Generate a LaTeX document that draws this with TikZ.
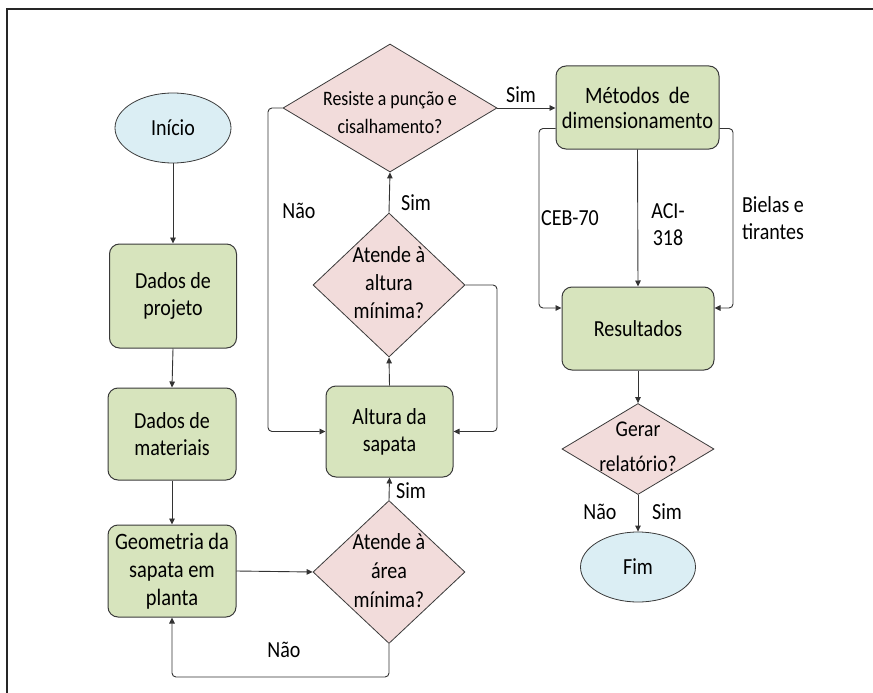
\documentclass[tikz,border=0pt]{standalone}
\usepackage{fontspec}
\setmainfont{Carlito}[FakeStretch=0.87]
\usetikzlibrary{shapes.geometric,arrows.meta,calc}
\definecolor{boxgreen}{HTML}{D7E4BD}
\definecolor{diapink}{HTML}{F2DCDB}
\definecolor{ovalblue}{HTML}{DBEEF4}
\definecolor{edgegray}{HTML}{3A3A3A}
\tikzset{
  every node/.style={font=\fontsize{23}{27}\selectfont, text=black},
  procbox/.style={draw=edgegray, line width=1pt, fill=boxgreen, rounded corners=10pt, align=center, inner sep=0pt},
  decision/.style={draw=edgegray, line width=0.8pt, fill=diapink, diamond, inner sep=0pt},
  terminal/.style={draw=edgegray, line width=0.8pt, fill=ovalblue, ellipse, inner sep=0pt},
  txt/.style={align=center, inner sep=0pt},
  conn/.style={draw=black!80, line width=0.9pt, rounded corners=4pt, -{Triangle[length=6pt,width=5.5pt]}},
  plainconn/.style={draw=black!80, line width=0.9pt, rounded corners=4pt}
}
\begin{document}
\begin{tikzpicture}[x=1pt, y=-1pt]
\useasboundingbox (0,0) rectangle (873,693);
% frame
\coordinate (fa) at (7,693);
\coordinate (fb) at (7,9);
\coordinate (fc) at (873,9);
\draw[black!85, line width=1.2pt] (fa) -- (fb) -- (fc);

% nodes
\node[terminal, minimum width=116pt, minimum height=70pt] (ini) at (173,128) {Início};
\node[procbox, minimum width=127pt, minimum height=104pt] (dp) at (173,296) {Dados de\\projeto};
\node[procbox, minimum width=128pt, minimum height=92pt] (dm) at (172,434) {Dados de\\materiais};
\node[procbox, minimum width=128pt, minimum height=92pt, font=\fontsize{23.5}{28}\selectfont] (geo) at (172,571) {Geometria da\\sapata em\\planta};

\node[decision, minimum width=152pt, minimum height=143pt] (ar) at (389,572) {};
\node[txt, font=\fontsize{23}{29}\selectfont] (art) at (389,571) {Atende à\\área\\mínima?};

\node[procbox, minimum width=127pt, minimum height=91pt] (alt) at (389.5,431.5) {Altura da\\sapata};

\node[decision, minimum width=152pt, minimum height=144pt] (dalt) at (389,285) {};
\node[txt, font=\fontsize{23}{28}\selectfont] (daltt) at (389,283) {Atende à\\altura\\mínima?};

\node[decision, minimum width=214pt, minimum height=128pt] (res) at (390,108) {};
\node[txt, font=\fontsize{20.5}{28}\selectfont] (rest) at (390,113) {Resiste a punção e\\cisalhamento?};

\node[procbox, minimum width=163pt, minimum height=83pt, font=\fontsize{23.5}{25}\selectfont] (met) at (637.5,107.5) {Métodos\ \ de\\dimensionamento};
\node[procbox, minimum width=152pt, minimum height=83pt] (rsl) at (638,328.5) {Resultados};

\node[decision, minimum width=152pt, minimum height=91pt] (ger) at (638,449) {};
\node[txt, font=\fontsize{22.5}{35}\selectfont] (gert) at (638,447) {Gerar\\relatório?};

\node[terminal, minimum width=115pt, minimum height=70pt] (fim) at (638,567) {Fim};

% connectors left column
\draw[conn] (ini.south) -- (dp.north);
\draw[conn] (dp.south) -- (dm.north);
\draw[conn] (dm.south) -- (geo.north);
\draw[conn] (geo.east) -- (ar.west);

% area "Não" loop
\coordinate (lpb) at (389,677);
\coordinate (lpa) at (172,677);
\draw[conn] (ar.south) -- (lpb) -- (lpa) -- (geo.south);
\node[txt] (lnao1) at (284,650) {Não};

% area "Sim"
\draw[conn] (ar.north) -- (alt.south);
\node[txt] (lsim1) at (411,491) {Sim};

% altura -> diamond
\draw[conn] (alt.north) -- (dalt.south);
\coordinate (rl) at (497,431.5);
\draw[conn] (dalt.east) -| (rl) -- (alt.east);

% altura diamond -> resiste
\draw[conn] (dalt.north) -- (res.south);
\node[txt] (lsim2) at (416,203) {Sim};

% resiste "Não" loop
\coordinate (ll) at (268,431.5);
\draw[conn] (res.west) -| (ll) -- (alt.east -| alt.west);
\node[txt] (lnao2) at (299,211) {Não};

% resiste -> metodos
\draw[conn] (res.east) -- (met.west |- res.east);
\node[txt] (lsim3) at (521,95) {Sim};

% metodos -> resultados
\coordinate (ml) at (539,308);
\coordinate (mr) at (733,308);
\draw[conn] ([yshift=-21pt]met.west) -| (ml) -- (ml -| rsl.west);
\draw[conn] (met.south) -- (rsl.north);
\draw[conn] ([yshift=-21pt]met.east) -| (mr) -- (mr -| rsl.east);
\node[txt] (lceb) at (570,218) {CEB-70};
\node[txt] (laci) at (668,225) {ACI-\\318};
\node[txt, align=left] (lbie) at (773,218) {Bielas e\\tirantes};

% resultados -> gerar -> fim
\draw[conn] (rsl.south) -- (ger.north);
\draw[conn] (ger.south) -- (fim.north);
\node[txt] (lnao3) at (600,512) {Não};
\node[txt] (lsim4) at (667,512) {Sim};
\end{tikzpicture}
\end{document}
